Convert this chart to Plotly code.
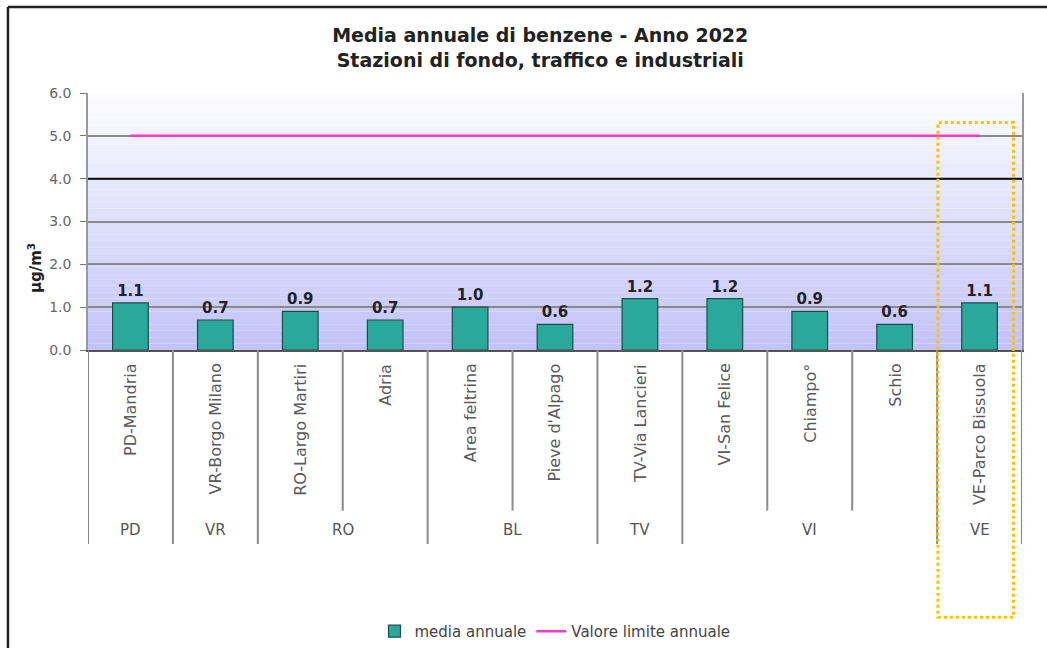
import plotly.graph_objects as go

# dati
stazioni = ["PD-Mandria", "VR-Borgo Milano", "RO-Largo Martiri", "Adria", "Area feltrina",
            "Pieve d'Alpago", "TV-Via Lancieri", "VI-San Felice", "Chiampo°", "Schio",
            "VE-Parco Bissuola"]
province = ["PD", "VR", "RO", "RO", "BL", "BL", "TV", "VI", "VI", "VI", "VE"]
media_annuale = [1.1, 0.7, 0.9, 0.7, 1.0, 0.6, 1.2, 1.2, 0.9, 0.6, 1.1]
valore_limite = [5.0] * len(stazioni)
y_ticks = [0, 1, 2, 3, 4, 5, 6]

FONT = "DejaVu Sans, Arial, sans-serif"
n = len(stazioni)

fig = go.Figure()
fig.add_trace(go.Bar(x=stazioni, y=media_annuale, name="media annuale",
                     marker=dict(color="#2aa99a", line=dict(color="#1d4f49", width=1.2)),
                     width=0.42, texttemplate="<b>%{y:.1f}</b>", textposition="outside",
                     textfont=dict(size=15, color="#222", family=FONT), cliponaxis=False))
fig.add_trace(go.Scatter(x=stazioni, y=valore_limite, mode="lines", name="Valore limite annuale",
                         line=dict(color="#f03cc8", width=2.5)))

shapes = []
# sfondo sfumato dell'area del grafico
bands = 40
for i in range(bands):
    t = i / (bands - 1)
    r = int(195 + (252 - 195) * t)
    shapes.append(dict(type="rect", xref="paper", yref="paper", x0=0, x1=1,
                       y0=i / bands, y1=(i + 1) / bands, layer="below", line_width=0,
                       fillcolor=f"rgb({r},{r},{min(250 + int(5 * t), 255)})"))
# linea nera a 4.0
shapes.append(dict(type="line", xref="paper", yref="y", x0=0, x1=1, y0=4, y1=4,
                   line=dict(color="#111", width=2)))

# separatori sotto l'asse
for i in range(n + 1):
    bordo = i == 0 or i == n or province[i - 1] != province[i]
    shapes.append(dict(type="line", xref="x", yref="paper", x0=i - 0.5, x1=i - 0.5,
                       y0=0, y1=-0.755 if bordo else -0.625,
                       line=dict(color="#8a8a8a", width=2)))

# riquadro tratteggiato arancione
shapes.append(dict(type="rect", xref="x", yref="paper", x0=n - 1.49, x1=n - 0.6,
                   y0=-1.04, y1=0.885, line=dict(color="#ffc000", width=3, dash="dot")))
# cornice esterna (sinistra e alto)
shapes.append(dict(type="line", xref="paper", yref="paper", x0=-0.0857, x1=-0.0857,
                   y0=-1.2, y1=1.335, line=dict(color="#222", width=2.5)))
shapes.append(dict(type="line", xref="paper", yref="paper", x0=-0.0857, x1=1.05,
                   y0=1.335, y1=1.335, line=dict(color="#222", width=2.5)))

annotations = []
for s in stazioni:
    annotations.append(dict(x=s, xref="x", y=-0.045, yref="paper", text=s, textangle=-90,
                            showarrow=False, yanchor="top", xanchor="center",
                            font=dict(size=16, color="#5a5a5a", family=FONT)))
# etichette delle province, centrate sui gruppi
gruppi = []
for i, p in enumerate(province):
    if gruppi and gruppi[-1][0] == p:
        gruppi[-1][1].append(i)
    else:
        gruppi.append((p, [i]))
for p, idx in gruppi:
    annotations.append(dict(x=sum(idx) / len(idx), xref="x", y=-0.7, yref="paper", text=p,
                            showarrow=False, yanchor="middle",
                            font=dict(size=15, color="#555", family=FONT)))
annotations.append(dict(x=-0.0567, xref="paper", xanchor="center", y=0.319, yref="paper",
                        yanchor="middle", text="<b>µg/m<sup>3</sup></b>",
                        textangle=-90, showarrow=False, font=dict(size=15, color="#222", family=FONT)))

fig.update_layout(
    width=1047, height=648,
    margin=dict(l=88, r=25, t=93, b=298, autoexpand=False),
    paper_bgcolor="white", plot_bgcolor="rgba(0,0,0,0)",
    title=dict(text="<b>Media annuale di benzene - Anno 2022<br>Stazioni di fondo, traffico e industriali</b>",
               x=0.516, xanchor="center", y=0.935, yanchor="middle",
               font=dict(size=19, color="#222", family=FONT)),
    showlegend=True,
    legend=dict(orientation="h", x=0.5, xanchor="center", y=-1.095, yanchor="middle",
                font=dict(size=15, color="#444", family=FONT), bgcolor="rgba(0,0,0,0)"),
    shapes=shapes, annotations=annotations, bargap=0.5,
)
fig.update_xaxes(type="category", range=[-0.5, n - 0.5], showticklabels=False, ticks="",
                 showgrid=False, showline=True, linecolor="#555", linewidth=1.5, zeroline=False,
                 automargin=False)
fig.update_yaxes(range=[0, 6], tickvals=y_ticks, tickformat=".1f", ticks="outside", ticklen=6,
                 tickcolor="#777", showline=True, linecolor="#999", linewidth=1.5, mirror=True,
                 gridcolor="#8a8a8a", gridwidth=1.5, zeroline=False, ticklabelstandoff=6,
                 automargin=False, tickfont=dict(size=14, color="#666", family=FONT))

# niente margine della pagina, così la figura occupa esattamente la finestra
fig.write_html("out.html", config={"displayModeBar": False},
               post_script="document.body.style.margin='0';document.body.style.overflow='hidden';")
